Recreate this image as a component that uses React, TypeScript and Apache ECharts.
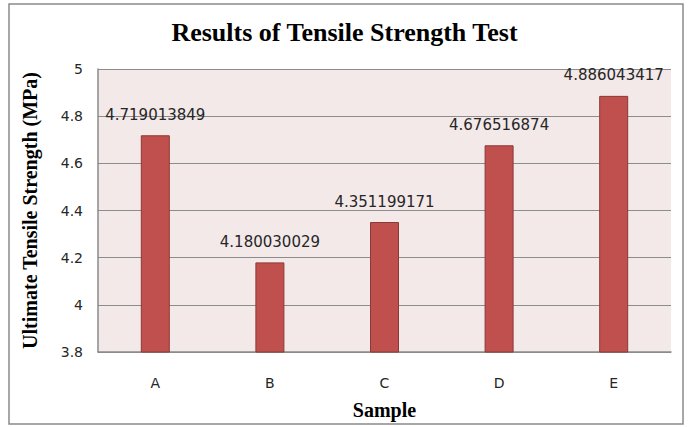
import React, { useEffect, useRef } from "react";
import * as echarts from "echarts";

const categories = ["A", "B", "C", "D", "E"];
const values = [4.719013849, 4.180030029, 4.351199171, 4.676516874, 4.886043417];
const titleText = "Results of Tensile Strength Test";
const yName = "Ultimate Tensile Strength (MPa)";
const xName = "Sample";

export default function App() {
  const ref = useRef<HTMLDivElement>(null);
  useEffect(() => {
    document.body.style.margin = "0";
    const chart = echarts.init(ref.current!, null, { renderer: "svg" });
    chart.setOption({
      animation: false,
      backgroundColor: "#ffffff",
      title: {
        text: titleText,
        left: "center",
        top: 14,
        textStyle: {
          fontFamily: "Liberation Serif",
          fontWeight: "bold",
          fontSize: 26,
          color: "#000",
        },
      },
      graphic: [
        {
          type: "rect",
          shape: { x: 9, y: 4, width: 674, height: 420 },
          style: { fill: "none", stroke: "#8a8a8a", lineWidth: 1.5 },
          silent: true,
        },
      ],
      grid: {
        left: 98,
        right: 18,
        top: 69,
        bottom: 75,
        show: true,
        backgroundColor: "#F3E9E9",
        borderWidth: 0,
      },
      xAxis: {
        type: "category",
        data: categories,
        name: xName,
        nameLocation: "middle",
        nameGap: 48,
        nameTextStyle: {
          fontFamily: "Liberation Serif",
          fontWeight: "bold",
          fontSize: 20,
          color: "#000",
        },
        axisLine: { show: true, lineStyle: { color: "#8a8a8a", width: 1.5 } },
        axisTick: { show: false },
        axisLabel: {
          margin: 24,
          fontFamily: "DejaVu Sans",
          fontSize: 14,
          color: "#262626",
        },
      },
      yAxis: {
        type: "value",
        min: 3.8,
        max: 5,
        interval: 0.2,
        name: yName,
        nameLocation: "middle",
        nameGap: 58,
        nameTextStyle: {
          fontFamily: "Liberation Serif",
          fontWeight: "bold",
          fontSize: 20,
          color: "#000",
        },
        axisLine: { show: true, lineStyle: { color: "#8a8a8a", width: 1.5 } },
        axisTick: { show: false },
        splitLine: { show: true, lineStyle: { color: "#8c8c8c", width: 1 } },
        axisLabel: {
          margin: 15,
          fontFamily: "DejaVu Sans",
          fontSize: 14,
          color: "#262626",
          formatter: (v: number) => String(Math.round(v * 10) / 10),
        },
      },
      series: [
        {
          type: "bar",
          data: values,
          barWidth: 29,
          itemStyle: { color: "#C0504D", borderColor: "#8C3836", borderWidth: 1 },
          label: {
            show: true,
            position: "top",
            distance: 13,
            fontFamily: "DejaVu Sans",
            fontSize: 15,
            color: "#262626",
            formatter: (p: any) => String(p.value),
          },
        },
      ],
    });
    return () => chart.dispose();
  }, []);
  return <div ref={ref} style={{ width: 689, height: 427 }} />;
}
